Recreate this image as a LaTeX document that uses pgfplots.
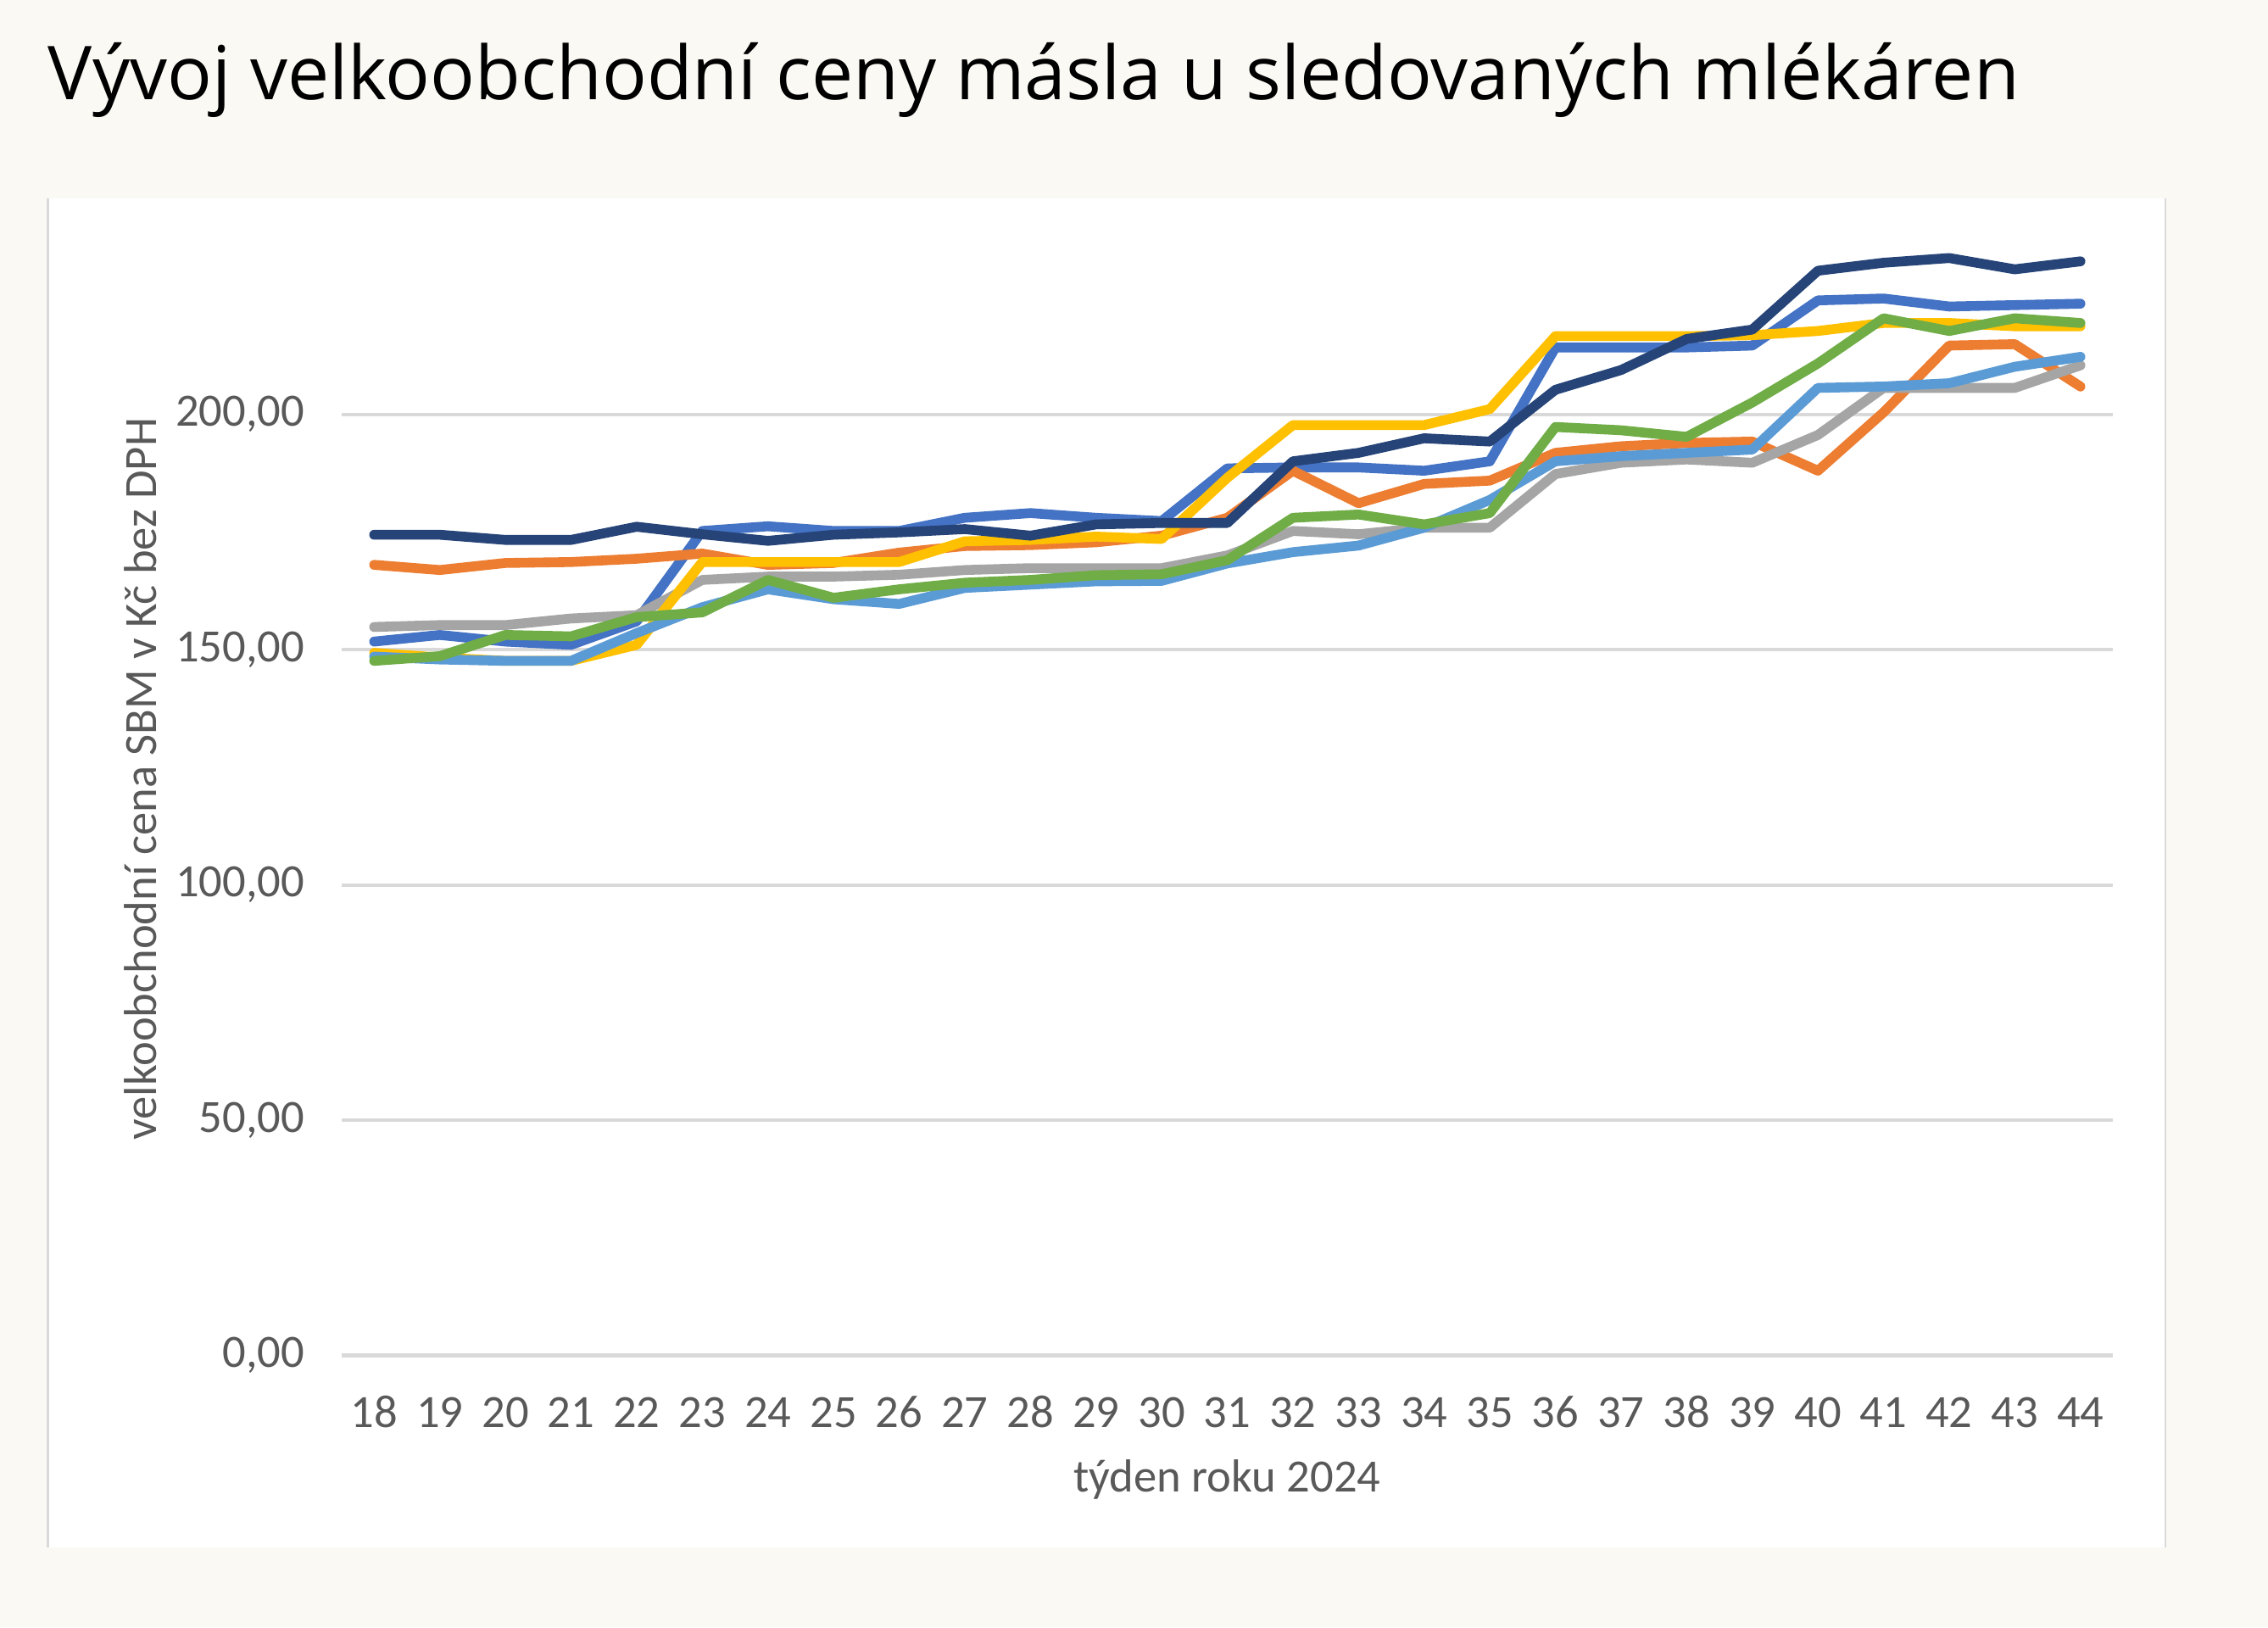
\documentclass[border=0pt]{standalone}
\usepackage{fontspec}
\setmainfont{Carlito}
\newfontfamily\titlefont{Open Sans}
\usepackage{pgfplots}
\usepackage{pgfplotstable}
\pgfplotsset{compat=1.18}
\definecolor{cblue}{HTML}{4472C4}
\definecolor{corange}{HTML}{ED7D31}
\definecolor{cgray}{HTML}{A5A5A5}
\definecolor{cyellow}{HTML}{FFC000}
\definecolor{clblue}{HTML}{5B9BD5}
\definecolor{cgreen}{HTML}{70AD47}
\definecolor{cnavy}{HTML}{264478}
\definecolor{bgcol}{HTML}{FAF9F4}
\definecolor{gridcol}{HTML}{D9D9D9}
\definecolor{tickcol}{HTML}{595959}
\pgfplotstableread{
w blue orange gray yellow lblue green navy
18 151.7 168.0 154.8 149.3 148.5 147.6 174.4
19 153.1 166.9 155.2 148.3 147.9 148.6 174.4
20 151.7 168.4 155.2 147.6 147.6 153.1 173.3
21 151.0 168.6 156.6 147.6 147.6 152.8 173.3
22 156.0 169.3 157.3 151.0 153.5 156.9 176.1
23 175.2 170.4 164.8 168.6 159.0 157.9 174.5
24 176.2 168.0 165.5 168.6 162.8 164.8 173.1
25 175.2 168.4 165.5 168.6 160.7 161.0 174.4
26 175.2 170.6 165.9 168.6 159.7 162.8 174.9
27 178.0 172.0 166.9 173.0 163.1 164.2 175.6
28 179.0 172.2 167.3 173.3 163.8 164.8 174.2
29 178.0 172.8 167.3 174.0 164.5 165.8 176.6
30 177.3 174.2 167.3 173.5 164.6 166.0 176.9
31 188.5 178.0 170.0 186.5 168.3 169.0 176.9
32 188.7 188.0 175.2 197.7 170.7 178.0 190.0
33 188.7 181.1 174.5 197.7 172.1 178.7 191.8
34 188.0 185.2 175.9 197.7 175.9 176.6 194.9
35 190.0 185.9 175.9 201.1 181.8 179.0 194.2
36 214.2 191.8 187.3 216.6 190.0 197.3 205.2
37 214.2 193.2 189.7 216.6 191.1 196.6 209.4
38 214.2 193.9 190.4 216.6 191.8 195.2 216.0
39 214.6 194.2 189.7 216.8 192.5 202.5 218.0
40 224.2 188.0 195.6 217.7 205.6 210.8 230.5
41 224.6 200.4 205.6 219.4 205.9 220.4 232.2
42 222.9 214.6 205.6 219.4 206.6 217.7 233.2
43 223.2 214.9 205.6 218.7 210.1 220.4 230.8
44 223.5 205.9 210.4 218.7 212.2 219.4 232.5
}\datatable
\begin{document}
\begin{tikzpicture}
\path[use as bounding box, fill=bgcol] (-118pt,-94pt) rectangle (666pt,468.5pt);
\fill[white] (-101.5pt,-66.5pt) rectangle (630.5pt,400pt);
\draw[gridcol, line width=0.8pt] (-101.5pt,-66.5pt) -- (-101.5pt,400pt);
\draw[gridcol, line width=0.8pt] (630.5pt,-66.5pt) -- (630.5pt,400pt);
\node[anchor=base west, inner sep=0pt, font=\titlefont\fontsize{25.7}{25.7}\selectfont, text=black] at (-101.5pt,434pt) {Vývoj velkoobchodní ceny másla u sledovaných mlékáren};
\begin{axis}[
  at={(0pt,0pt)}, anchor=south west,
  scale only axis, width=612.5pt, height=398.5pt,
  xmin=17.5, xmax=44.5, ymin=0, ymax=245,
  xtick={18,...,44}, ytick={0,50,...,200},
  axis line style={draw=none},
  major tick length=0pt,
  ymajorgrids, grid style={color=gridcol, line width=1.2pt},
  tick label style={font=\fontsize{16}{16}\selectfont, text=tickcol, inner sep=0pt},
  /pgf/number format/assume math mode=true,
  yticklabel style={anchor=east, xshift=-12.5pt, /pgf/number format/.cd, fixed, fixed zerofill, precision=2, use comma},
  xticklabel style={anchor=base, yshift=-25pt},
  xlabel={týden roku 2024},
  ylabel={velkoobchodní cena SBM v Kč bez DPH},
  label style={font=\fontsize{16}{16}\selectfont, text=tickcol},
  x label style={at={(axis description cs:0.5,-0.1079)}, anchor=center},
  y label style={at={(axis description cs:-0.1135,0.5)}, anchor=center},
  every axis plot/.append style={line width=3.4pt, line join=round, line cap=round, mark=none},
]
\addplot[cblue] table[x=w, y=blue] {\datatable};
\addplot[corange] table[x=w, y=orange] {\datatable};
\addplot[cgray] table[x=w, y=gray] {\datatable};
\addplot[cyellow] table[x=w, y=yellow] {\datatable};
\addplot[clblue] table[x=w, y=lblue] {\datatable};
\addplot[cgreen] table[x=w, y=green] {\datatable};
\addplot[cnavy] table[x=w, y=navy] {\datatable};
\end{axis}
\end{tikzpicture}
\end{document}
